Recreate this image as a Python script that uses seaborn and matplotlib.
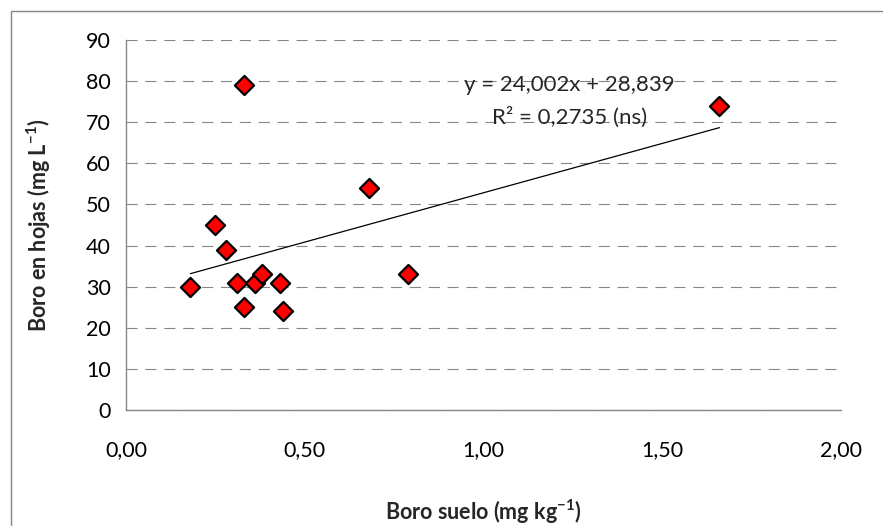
import numpy as np
import pandas as pd
import matplotlib
matplotlib.use("Agg")
import matplotlib.pyplot as plt
from matplotlib.patches import Rectangle
import seaborn as sns

# -----------------------------
# Data
boro_suelo = [0.18, 0.25, 0.28, 0.31, 0.33, 0.33, 0.36, 0.38, 0.43, 0.44, 0.68, 0.79, 1.66]
boro_hojas = [30, 45, 39, 31, 79, 25, 31, 33, 31, 24, 54, 33, 74]

x_ticks = [0.0, 0.5, 1.0, 1.5, 2.0]
x_tick_labels = ["0,00", "0,50", "1,00", "1,50", "2,00"]
y_ticks = [0, 10, 20, 30, 40, 50, 60, 70, 80, 90]

eq_text = "y = 24,002x + 28,839"
r2_text = "R² = 0,2735 (ns)"

df = pd.DataFrame({"suelo": boro_suelo, "hojas": boro_hojas})

# -----------------------------
# Style
sns.set_style("white")
plt.rcParams["font.family"] = ["Lato", "DejaVu Sans"]
plt.rcParams["mathtext.fontset"] = "custom"
plt.rcParams["mathtext.rm"] = "Lato"
plt.rcParams["mathtext.bf"] = "Lato:bold"
plt.rcParams["mathtext.default"] = "bf"

gris = "#868686"

fig = plt.figure(figsize=(8.83, 5.26), dpi=100)
ax = fig.add_axes([126 / 883, 1 - 410 / 526, 715 / 883, 370 / 526])

# chart area border (only top/left visible in the crop)
fig.patches.append(Rectangle((10.5 / 883, -0.5), 2, 1.5 - 11 / 526, transform=fig.transFigure,
                             fill=False, edgecolor=gris, linewidth=1.0))

# trendline
sns.regplot(data=df, x="suelo", y="hojas", ax=ax, scatter=False, ci=None, truncate=True,
            line_kws={"color": "black", "linewidth": 0.9})
# points
sns.scatterplot(data=df, x="suelo", y="hojas", ax=ax, marker="D", s=95, color="#ff0000",
                edgecolor="black", linewidth=1.6, zorder=3)

ax.set_xlim(0, 2)
ax.set_ylim(0, 90)
ax.set_xticks(x_ticks)
ax.set_xticklabels(x_tick_labels)
ax.set_yticks(y_ticks)

ax.grid(axis="y", color=gris, linestyle=(0, (10, 7)), linewidth=0.8)
ax.set_axisbelow(True)
for s in ["top", "right"]:
    ax.spines[s].set_visible(False)
for s in ["left", "bottom"]:
    ax.spines[s].set_color(gris)
    ax.spines[s].set_linewidth(1.0)

ax.tick_params(axis="both", direction="out", length=5, width=1.0, color=gris,
               labelsize=15.5, labelcolor="black")
ax.tick_params(axis="x", pad=17)
ax.tick_params(axis="y", pad=6)

ax.set_xlabel(r"Boro suelo (mg kg$^{-1}$)", fontsize=15.5, fontweight="bold", labelpad=27)
ax.set_ylabel(r"Boro en hojas (mg L$^{-1}$)", fontsize=15.5, fontweight="bold", labelpad=24)

ax.text(1.24, 79.1, eq_text, ha="center", va="center", fontsize=16)
ax.text(1.24, 71.3, r2_text, ha="center", va="center", fontsize=16)

fig.savefig("out.png", dpi=100)
